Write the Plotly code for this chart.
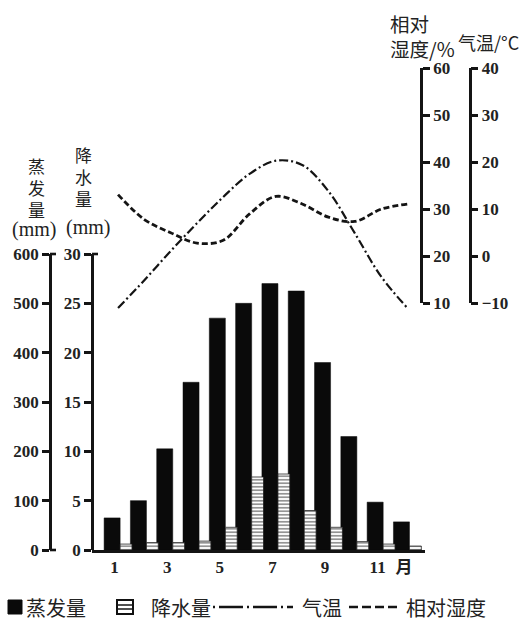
import plotly.graph_objects as go

# ---------------- data ----------------
months = list(range(1, 13))
evaporation = [65, 100, 205, 340, 470, 500, 540, 525, 380, 230, 97, 57]          # mm
precipitation = [0.6, 0.75, 0.75, 0.9, 2.3, 7.4, 7.7, 4.0, 2.3, 0.85, 0.6, 0.4]  # mm
temperature = [-11.0, -5.1, 1.1, 7.0, 12.6, 17.5, 20.3, 19.4, 13.8, 4.9, -4.3, -11.0]  # °C
humidity = [33.1, 27.8, 25.0, 22.8, 23.4, 29.0, 32.7, 31.1, 28.3, 27.4, 30.0, 31.1]     # %

month_ticks = [1, 3, 5, 7, 9, 11, 12]
month_labels = ["1", "3", "5", "7", "9", "11", "月"]
evap_ticks = [0, 100, 200, 300, 400, 500, 600]
precip_ticks = [0, 5, 10, 15, 20, 25, 30]
hum_ticks = [10, 20, 30, 40, 50, 60]
temp_ticks = [-10, 0, 10, 20, 30, 40]

# ---------------- geometry helpers ----------------
W, H = 532, 623


def fx(px):
    return px / W


def fy(py):
    return 1 - py / H


INK = "#141414"
SERIF = "Liberation Serif, DejaVu Serif, serif"
CJK = "Noto Sans CJK SC, Noto Sans, sans-serif"

# right axes pixel frame
R_TOP, R_BOT = 68.0, 303.3
ppu = (R_BOT - R_TOP) / 50.0
EXT_TOP, EXT_BOT = 40.0, 345.0
hum_ext = [10 - (EXT_BOT - R_BOT) / ppu, 60 + (R_TOP - EXT_TOP) / ppu]
temp_ext = [-10 - (EXT_BOT - R_BOT) / ppu, 40 + (R_TOP - EXT_TOP) / ppu]

LABEL_SHIFT = 0.13  # month labels sit slightly left of the bar pairs

fig = go.Figure()

fig.add_trace(go.Bar(
    x=months, y=evaporation, name="蒸发量", xaxis="x", yaxis="y",
    marker=dict(color="#0a0a0a", line=dict(color="#0a0a0a", width=0.5)),
    offset=-0.53, width=0.61,
))
fig.add_trace(go.Bar(
    x=months, y=precipitation, name="降水量", xaxis="x", yaxis="y2",
    marker=dict(color="white",
                line=dict(color="#222", width=0.8),
                pattern=dict(shape="-", fgcolor="#111", bgcolor="white",
                             size=3.5, solidity=0.45)),
    offset=0.08, width=0.45,
))
fig.add_trace(go.Scatter(
    x=months, y=temperature, name="气温", xaxis="x", yaxis="y6",
    mode="lines", line=dict(color=INK, width=2.2, dash="9px,3px,2px,3px",
                            shape="spline", smoothing=1.0),
))
fig.add_trace(go.Scatter(
    x=months, y=humidity, name="相对湿度", xaxis="x", yaxis="y5",
    mode="lines", line=dict(color=INK, width=2.8, dash="6px,3px",
                            shape="spline", smoothing=1.0),
))
# empty traces so the visible right-hand axes are drawn
fig.add_trace(go.Scatter(x=[None], y=[None], xaxis="x", yaxis="y3",
                         showlegend=False, hoverinfo="skip"))
fig.add_trace(go.Scatter(x=[None], y=[None], xaxis="x", yaxis="y4",
                         showlegend=False, hoverinfo="skip"))

TICKFONT = dict(family=SERIF, size=17, color="#222", weight="bold")
axis_style = dict(showline=True, linecolor=INK, linewidth=2.6,
                  ticks="outside", ticklen=7, tickwidth=2.6, tickcolor=INK,
                  showgrid=False, zeroline=False, automargin=False,
                  tickfont=TICKFONT, fixedrange=True)

fig.update_layout(
    width=W, height=H,
    margin=dict(l=0, r=0, t=0, b=0),
    paper_bgcolor="white", plot_bgcolor="rgba(0,0,0,0)",
    showlegend=False, barmode="overlay",
    xaxis=dict(domain=[fx(92), fx(425)], range=[0.01, 12.67], anchor="y",
               showline=True, linecolor=INK, linewidth=2.6, ticks="",
               tickvals=[m - LABEL_SHIFT for m in month_ticks], ticktext=month_labels,
               tickfont=dict(family=SERIF + ", " + CJK, size=17, color="#222", weight="bold"),
               showgrid=False, zeroline=False, automargin=False, fixedrange=True),
    yaxis=dict(domain=[fy(550), fy(254)], range=[0, 600], anchor="free",
               position=fx(50), side="left", tickvals=evap_ticks, **axis_style),
    yaxis2=dict(range=[0, 30], overlaying="y", anchor="free",
                position=fx(92), side="left", tickvals=precip_ticks, **axis_style),
    yaxis3=dict(domain=[fy(R_BOT), fy(R_TOP)], range=[10, 60], anchor="free",
                position=fx(421), side="right", tickvals=hum_ticks, **axis_style),
    yaxis4=dict(range=[-10, 40], overlaying="y3", anchor="free",
                position=fx(469.5), side="right", tickvals=temp_ticks, **axis_style),
    yaxis5=dict(domain=[fy(EXT_BOT), fy(EXT_TOP)], range=hum_ext, anchor="free",
                position=fx(421), visible=False, fixedrange=True),
    yaxis6=dict(range=temp_ext, overlaying="y5", anchor="free",
                position=fx(469.5), visible=False, fixedrange=True),
)

ann = []


def text(s, x, y, size=19, fam=CJK, anchor="center", align="center"):
    ann.append(dict(text=s, x=fx(x), y=fy(y), xref="paper", yref="paper",
                    xanchor=anchor, yanchor="middle", showarrow=False, align=align,
                    font=dict(family=fam, size=size, color="#222")))


# left titles
text("蒸<br>发<br>量", 36, 187, size=17)
text("(mm)", 34, 230, size=20, fam=SERIF)
text("降<br>水<br>量", 83, 176, size=17)
text("(mm)", 88, 227, size=20, fam=SERIF)
# right titles
text("相对<br>湿度/%", 388, 36, size=19.5, anchor="left", align="left")
text("气温/°C", 456, 42, size=18, anchor="left")

# legend
LY = 607
text("蒸发量", 24, LY, size=20, anchor="left")
text("降水量", 149, LY, size=20, anchor="left")
text("气温", 300, LY, size=20, anchor="left")
text("相对湿度", 404, LY, size=20, anchor="left")


def pline(x0, x1, y0, y1, w=2.6, dash=None):
    ln = dict(color=INK, width=w)
    if dash:
        ln["dash"] = dash
    return dict(type="line", xref="paper", yref="paper", x0=fx(x0), x1=fx(x1),
                y0=fy(y0), y1=fy(y1), line=ln)


shapes = [
    # small end spurs on the left axes
    pline(50, 56, 254, 254), pline(50, 56, 550, 550), pline(92, 98, 254, 254),
    # legend keys
    dict(type="rect", xref="paper", yref="paper", x0=fx(8), x1=fx(22),
         y0=fy(614), y1=fy(600), fillcolor="#0a0a0a", line=dict(color="#0a0a0a", width=1)),
    dict(type="rect", xref="paper", yref="paper", x0=fx(117), x1=fx(133),
         y0=fy(614), y1=fy(600), fillcolor="white", line=dict(color="#111", width=2)),
    pline(117, 133, 605, 605, w=1.5),
    pline(117, 133, 609, 609, w=1.5),
    pline(213, 293, LY, LY, w=2.5, dash="2px,4px,24px,4px"),
    pline(349, 398, LY, LY, w=2.5, dash="9px,4px"),
]

fig.update_layout(annotations=ann, shapes=shapes)
fig.write_html("out.html", config={"displayModeBar": False},
               post_script="document.body.style.margin='0';")
